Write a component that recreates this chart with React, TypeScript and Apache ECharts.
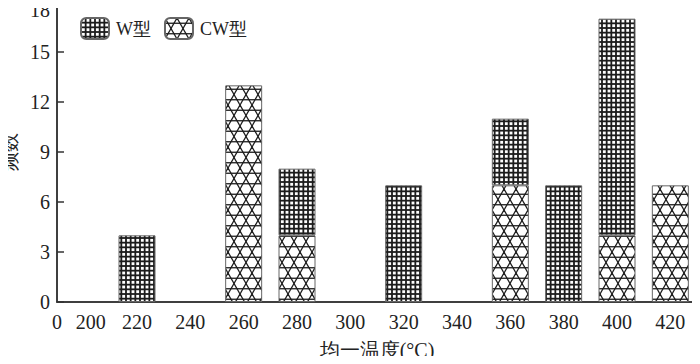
import React, { useEffect, useRef } from "react";
import * as echarts from "echarts";

const categories = ["200", "220", "240", "260", "280", "300", "320", "340", "360", "380", "400", "420"];
const wValues = [null, 4, null, null, 4, null, 7, null, 4, 7, 13, null];
const cwValues = [null, null, null, 13, 4, null, null, null, 7, null, 4, 7];
const yTicks = [0, 3, 6, 9, 12, 15, 18];
const xOriginLabel = "0";
const seriesNames = ["W型", "CW型"];

const FONT = "Liberation Serif, DejaVu Serif, serif";

function makeGridTile() {
  const c = document.createElement("canvas");
  const size = 14;
  c.width = size;
  c.height = size;
  const g = c.getContext("2d")!;
  g.fillStyle = "#ffffff";
  g.fillRect(0, 0, size, size);
  g.strokeStyle = "#1c1c1c";
  g.lineWidth = 1.8;
  const step = size / 3;
  for (let i = 0; i <= 3; i++) {
    const p = i * step;
    g.beginPath();
    g.moveTo(p, -1);
    g.lineTo(p, size + 1);
    g.stroke();
    g.beginPath();
    g.moveTo(-1, p);
    g.lineTo(size + 1, p);
    g.stroke();
  }
  return { c, w: size, h: size };
}

function makeKagomeTile() {
  const P = 12;
  const H = 10.5;
  const c = document.createElement("canvas");
  c.width = P;
  c.height = 2 * H;
  const g = c.getContext("2d")!;
  g.fillStyle = "#ffffff";
  g.fillRect(0, 0, P, 2 * H);
  g.strokeStyle = "#1c1c1c";
  g.lineWidth = 1.3;
  const off = H / 2;
  [off, off + H].forEach((y) => {
    g.beginPath();
    g.moveTo(-1, y);
    g.lineTo(P + 1, y);
    g.stroke();
  });
  const y0 = -2 * H;
  const y1 = 4 * H;
  for (let k = -4; k <= 4; k++) {
    g.beginPath();
    g.moveTo(P / 4 + k * P + ((y0 - off) / H) * (P / 2), y0);
    g.lineTo(P / 4 + k * P + ((y1 - off) / H) * (P / 2), y1);
    g.stroke();
    g.beginPath();
    g.moveTo(-P / 4 + k * P - ((y0 - off) / H) * (P / 2), y0);
    g.lineTo(-P / 4 + k * P - ((y1 - off) / H) * (P / 2), y1);
    g.stroke();
  }
  return { c, w: P, h: 2 * H };
}

export default function App() {
  const ref = useRef<HTMLDivElement>(null);
  useEffect(() => {
    if (!ref.current) return;
    const chart = echarts.init(ref.current, null, { renderer: "svg" });
    const gt = makeGridTile();
    const kt = makeKagomeTile();
    const wPattern: any = { image: gt.c, repeat: "repeat", imageWidth: gt.w, imageHeight: gt.h };
    const cwPattern: any = { image: kt.c, repeat: "repeat", imageWidth: kt.w, imageHeight: kt.h };
    const gridLeft = 57;
    const gridBottom = 62;
    chart.setOption({
      animation: false,
      textStyle: { fontFamily: FONT },
      grid: {
        left: gridLeft,
        right: 3,
        top: 2,
        bottom: gridBottom,
        outerBoundsMode: "none",
        containLabel: false,
        show: true,
        borderColor: "#333",
        borderWidth: 1.5,
        backgroundColor: "transparent",
      },
      legend: {
        data: seriesNames,
        left: 75,
        top: 12,
        itemWidth: 28,
        itemHeight: 21,
        itemGap: 13,
        textStyle: { fontFamily: FONT, fontSize: 18, color: "#222", padding: [0, 0, 0, 2] },
      },
      xAxis: {
        type: "category",
        data: categories,
        boundaryGap: true,
        name: "均一温度(°C)",
        nameLocation: "middle",
        nameGap: 38,
        nameTextStyle: { fontFamily: FONT, fontSize: 20, color: "#222" },
        axisLine: { lineStyle: { color: "#333", width: 1.5 } },
        axisTick: { inside: true, length: 7, lineStyle: { color: "#333", width: 1.5 }, alignWithLabel: false },
        axisLabel: {
          fontFamily: FONT,
          fontSize: 20,
          color: "#222",
          margin: 10,
          interval: 0,
          formatter: (v: string, i: number) => (i === 0 ? "{f|" + v + "}" : v),
          rich: { f: { fontFamily: FONT, fontSize: 20, color: "#222", padding: [0, 0, 0, 14] } },
        },
        splitLine: { show: false },
      },
      yAxis: {
        type: "value",
        min: yTicks[0],
        max: yTicks[yTicks.length - 1],
        interval: 3,
        name: "频数",
        nameLocation: "middle",
        nameGap: 33,
        nameRotate: 90,
        nameTextStyle: { fontFamily: FONT, fontSize: 19, color: "#222" },
        axisLine: { show: true, lineStyle: { color: "#333", width: 1.5 } },
        axisTick: { show: true, inside: true, length: 7, lineStyle: { color: "#333", width: 1.5 } },
        axisLabel: {
          fontFamily: FONT,
          fontSize: 20,
          color: "#222",
          margin: 7,
          formatter: (v: number) => (v === 18 ? "{t|" + v + "}" : String(v)),
          rich: { t: { fontFamily: FONT, fontSize: 20, color: "#222", padding: [16, 0, 0, 0] } },
        },
        splitLine: { show: false },
      },
      graphic: [
        {
          type: "text",
          left: gridLeft - 5,
          top: 364 - gridBottom + 10,
          style: { text: xOriginLabel, font: "20px " + FONT, fill: "#222" },
        },
      ],
      series: [
        {
          name: seriesNames[1],
          type: "bar",
          stack: "total",
          data: cwValues,
          barWidth: 37,
          itemStyle: { color: cwPattern, borderColor: "#666", borderWidth: 1 },
        },
        {
          name: seriesNames[0],
          type: "bar",
          stack: "total",
          data: wValues,
          barWidth: 37,
          itemStyle: { color: wPattern, borderColor: "#666", borderWidth: 1 },
        },
      ],
    });
    return () => chart.dispose();
  }, []);
  return <div ref={ref} style={{ width: 700, height: 364, margin: -8 }} />;
}
